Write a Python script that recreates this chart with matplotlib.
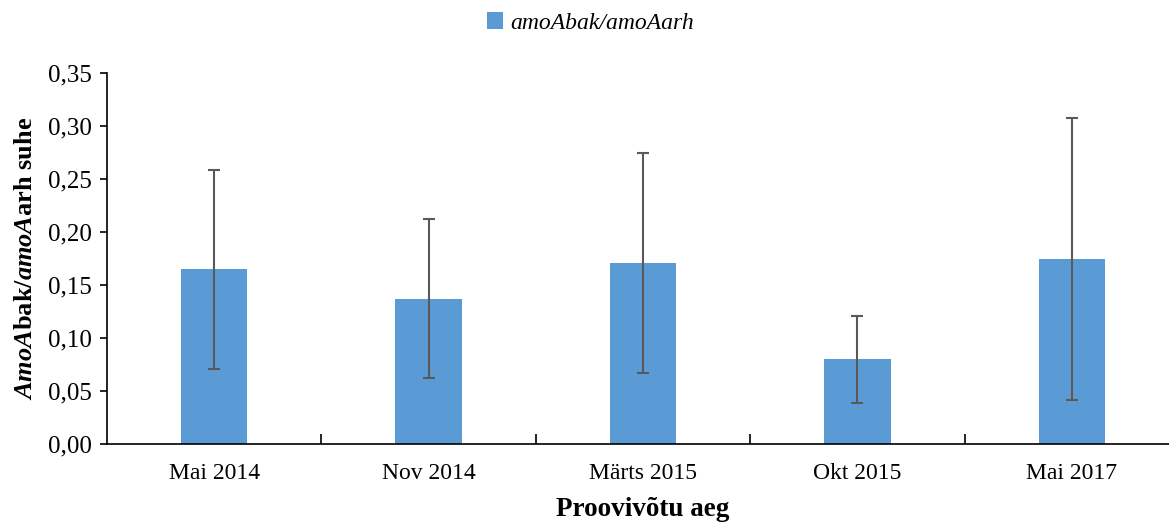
import matplotlib.pyplot as plt
import numpy as np
from matplotlib.ticker import FuncFormatter, FixedLocator

plt.rcParams['font.family'] = 'Liberation Serif'
plt.rcParams['mathtext.fontset'] = 'custom'
plt.rcParams['mathtext.rm'] = 'Liberation Serif'
plt.rcParams['mathtext.bf'] = 'Liberation Serif:bold'
plt.rcParams['mathtext.it'] = 'Liberation Serif:italic'
plt.rcParams['mathtext.bfit'] = 'Liberation Serif:italic:bold'

# sampling periods and amoA ratio (mean, error)
periods = ['Mai 2014', 'Nov 2014', 'Märts 2015', 'Okt 2015', 'Mai 2017']
ratio = [0.165, 0.137, 0.171, 0.080, 0.175]
ratio_err = [0.094, 0.075, 0.104, 0.041, 0.133]

fig = plt.figure(figsize=(11.69, 5.23), dpi=100)
ax = fig.add_axes([0.0915, 0.151, 0.917, 0.709])

x = np.arange(len(periods))
ax.bar(x, ratio, width=0.31, color='#5B9BD5', label='amoAbak/amoAarh', zorder=2)
ax.errorbar(x, ratio, yerr=ratio_err, fmt='none', ecolor='#595959',
            elinewidth=1.5, capsize=4.3, capthick=1.5, zorder=3)

ax.set_xlim(-0.5, len(periods) - 0.5)
ax.set_ylim(0, 0.35)
ax.set_yticks(np.arange(0, 0.351, 0.05))
ax.yaxis.set_major_formatter(FuncFormatter(lambda v, p: f'{v:.2f}'.replace('.', ',')))

ax.set_xticks(x)
ax.set_xticklabels(periods)
ax.xaxis.set_minor_locator(FixedLocator(np.arange(0.5, len(periods) - 1, 1.0)))
ax.tick_params(axis='x', which='major', length=0, pad=14, labelsize=17)
ax.tick_params(axis='x', which='minor', direction='in', length=7, width=1.2)
ax.tick_params(axis='y', direction='out', length=5, width=1.2, labelsize=18, pad=6)

for s in ['top', 'right']:
    ax.spines[s].set_visible(False)
for s in ['left', 'bottom']:
    ax.spines[s].set_linewidth(1.2)

ax.set_xlabel('Proovivõtu aeg', fontsize=19.5, fontweight='bold', labelpad=9)
ax.set_ylabel(r'$\mathbfit{AmoA}\mathbf{bak/}\mathbfit{amoA}\mathbf{arh\ suhe}$',
              fontsize=19, labelpad=8)

leg = fig.legend(loc='upper center', bbox_to_anchor=(0.505, 1.017), frameon=False,
                 prop={'family': 'Liberation Serif', 'style': 'italic', 'size': 17},
                 handlelength=0.7, handleheight=0.7, handletextpad=0.3)

fig.savefig('out.png', dpi=100)
